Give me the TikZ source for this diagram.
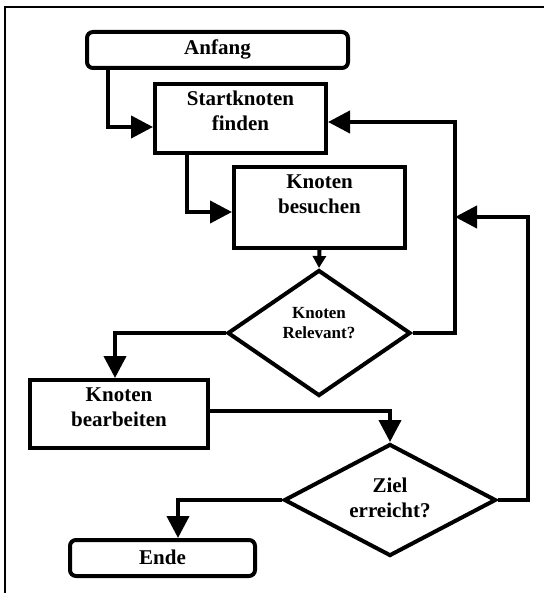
\documentclass[tikz,border=0pt]{standalone}
\usepackage{fontspec}
\setmainfont{Liberation Serif}
\usetikzlibrary{arrows.meta,shapes.geometric}
\tikzset{
  box/.style={draw, line width=4pt, inner sep=0pt},
  decision/.style={draw, diamond, line width=4pt, inner sep=0pt},
  txt/.style={font=\bfseries\fontsize{21}{25}\selectfont, align=center},
  smalltxt/.style={font=\bfseries\fontsize{17}{20}\selectfont, align=center},
  arr/.style={line width=4pt, -{Triangle[length=22pt,width=22pt]}},
  smallarr/.style={line width=4pt, -{Triangle[length=12pt,width=13pt]}}
}
\begin{document}
\begin{tikzpicture}[x=1pt,y=-1pt]
  \useasboundingbox (0,0) rectangle (544,593);
  \draw[line width=1.5pt] (5,593) -- (5,7) -- (544,7);
  % Kaesten
  \node[box, rounded corners=6pt, minimum width=261pt, minimum height=36pt,
        label={[txt, yshift=1pt]center:Anfang}] (anfang) at (217.5,50) {};
  \node[box, minimum width=171pt, minimum height=69pt,
        label={[txt, yshift=8pt]center:Startknoten\\finden}] (start) at (240.5,118.5) {};
  \node[box, minimum width=171pt, minimum height=81pt,
        label={[txt, yshift=13pt]center:Knoten\\besuchen}] (besuchen) at (319.5,207.5) {};
  \node[decision, minimum width=183pt, minimum height=126pt,
        label={[smalltxt, yshift=10pt]center:Knoten\\Relevant?}] (relevant) at (319,333) {};
  \node[box, minimum width=178pt, minimum height=68pt,
        label={[txt, yshift=7pt]center:Knoten\\bearbeiten}] (bearb) at (119,414) {};
  \node[decision, minimum width=212pt, minimum height=112pt,
        label={[txt, yshift=2pt]center:Ziel\\erreicht?}] (ziel) at (390,500) {};
  \node[box, rounded corners=6pt, minimum width=185pt, minimum height=36pt,
        label={[txt, yshift=1pt]center:Ende}] (ende) at (162.5,558) {};
  % Hilfspunkte
  \coordinate (back1) at (455,240);
  \coordinate (back2) at (528,350);
  \coordinate (join) at (455,217);
  % Verbindungen
  \draw[arr] ([xshift=23pt]anfang.south west) |- ([yshift=-8.5pt]start.west);
  \draw[arr] ([xshift=34pt]start.south west) |- ([yshift=-4.5pt]besuchen.west);
  \draw[smallarr] (besuchen.south) -- (relevant.north);
  \draw[arr] (relevant.east) -| (back1) |- ([yshift=-3.5pt]start.east);
  \draw[arr] (relevant.west) -| ([xshift=-4pt]bearb.north);
  \draw[arr] ([yshift=3pt]bearb.east) -| (ziel.north);
  \draw[arr] (ziel.east) -| (back2) |- (join);
  \draw[arr] (ziel.west) -| ([xshift=15.5pt]ende.north);
\end{tikzpicture}
\end{document}
